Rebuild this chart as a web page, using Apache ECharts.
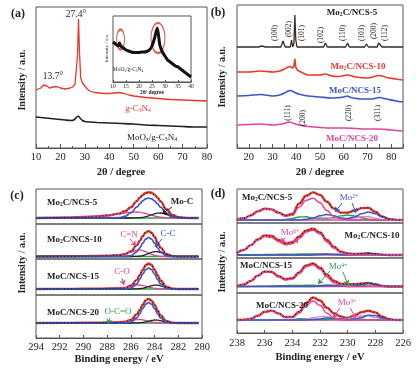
<!DOCTYPE html>
<html><head><meta charset="utf-8">
<script src="https://cdn.jsdelivr.net/npm/echarts/dist/echarts.min.js"></script>
<style>html,body{margin:0;padding:0;background:#fff}#c{width:416px;height:368px}</style>
</head><body><div id="c"></div>
<script>
// ---------- (a) XRD ----------
const aX = [10, 11, 12, 13, 13.7, 14.5, 15.5, 17, 18, 19, 20, 22, 24, 25, 26, 26.5, 27, 27.4, 27.8, 28.3, 29, 30, 31, 32, 34, 36, 38, 40, 42, 44, 46, 48, 50, 55, 60, 65, 70, 75, 80];
const aRed = [58, 59, 60, 63, 65, 62, 60, 61, 61.5, 61, 60, 59, 60, 61, 64, 66, 93, 129, 96, 70, 65, 62, 59, 57, 55.5, 55, 54.5, 54.5, 55, 55.5, 54.5, 53, 52, 50.5, 49.5, 48.5, 48, 47.5, 47];
const aBlackX = [10, 12, 14, 16, 18, 20, 22, 24, 25.5, 26.5, 27.3, 28, 29, 30, 32, 35, 40, 45, 50, 55, 60, 65, 70, 75, 80];
const aBlack = [31, 30.5, 30, 29.5, 29, 28.5, 28, 27.5, 28, 30.5, 32, 30, 27.5, 26.5, 26, 25.5, 25, 24.5, 24, 23, 22.5, 22, 21.5, 21, 21];
const insetX = [10, 11, 12, 12.5, 13, 14, 15, 16, 17, 18, 19, 20, 21, 22, 23, 24, 25, 26, 27, 27.5, 28, 29, 30, 31, 32, 33, 34, 35, 36, 37, 38, 39, 40];
const insetY = [40, 38, 36, 39, 36, 34, 32, 31, 30, 29.5, 29.5, 29.5, 30, 30, 30.5, 32, 36, 44, 54, 47, 37, 30, 26, 22, 20, 18, 16, 15, 13, 11, 9, 7, 5];
const insetMarkX = [12.9, 27.3];
const insetMarkY = [42.5, 44];
// ---------- (b) XRD ----------
const bX = [15, 24, 25.5, 27, 33.5, 34.4, 35.3, 37.5, 38.0, 38.5, 39.0, 39.4, 39.8, 40.3, 51.5, 52.3, 53.1, 60.8, 61.6, 62.4, 68.8, 69.6, 70.4, 74.1, 74.7, 75.5, 76.2, 85];
const bBlack = [101, 101, 102, 101, 101, 107, 101, 101, 108, 101, 104, 133, 108, 101, 101, 105, 101, 101, 105, 101, 101, 104, 101, 101, 105, 104, 101, 101];
const bRedX = [15, 20, 25, 30, 33, 35, 36.5, 37.5, 38.5, 39.0, 39.4, 39.8, 40.5, 42, 45, 50, 52, 55, 58, 61.5, 65, 70, 75, 78, 82, 85];
const bRed = [76, 76, 77, 76, 77, 79, 81, 81.5, 80, 82, 89, 81, 78, 76, 73, 73, 74, 72, 71.5, 73, 71, 70, 72.5, 70.5, 69, 68];
const bBlueX = [15, 20, 25, 30, 33, 35, 36.5, 37.5, 39, 41, 45, 50, 55, 60, 61.5, 63, 68, 72, 75, 78, 82, 85];
const bBlue = [52, 52.5, 53.5, 52, 53, 55, 57, 57.5, 56, 54, 52, 51, 50, 51, 52, 50.5, 49, 49, 50.5, 49, 47, 46];
const bPinkX = [15, 20, 25, 30, 34, 36, 37.5, 39, 42, 45, 50, 55, 60, 65, 70, 75, 80, 85];
const bPink = [23, 23.5, 24, 23, 24, 25.5, 26, 24.5, 22.5, 21.5, 20.5, 20, 20, 19.5, 19, 19, 18, 17];
const hklTop = ['(100)', '(002)', '(101)', '(102)', '(110)', '(103)', '(200)', '(112)'];
const hklBottom = ['(111)', '(200)', '(220)', '(311)'];
const sampleNames = ['Mo_2C/NCS-5', 'Mo_2C/NCS-10', 'MoC/NCS-15', 'MoC/NCS-20'];
// ---------- (c) C 1s XPS ----------
const cE = [294, 291, 289, 288, 287, 286.5, 286, 285.5, 285.25, 285, 284.75, 284.5, 284.25, 284, 283.75, 283.5, 283, 282.5, 282, 281, 280.3];
const cBaseE = [294, 280.3];
const c1Env = [6, 6.5, 7.5, 8.5, 10.4, 12.7, 16.8, 22.9, 26.2, 29, 31, 31.8, 31.2, 29.3, 26.3, 22.6, 14.7, 9, 6.8, 6, 6];
const c1CC = [6, 6, 6, 6, 6.4, 7.7, 11, 16.8, 20.1, 23.1, 25.2, 26, 25.2, 23.1, 20.1, 16.8, 11, 7.7, 6.4, 6, 6];
const c1CN = [6, 6.5, 7.5, 8.5, 10, 11, 11.8, 12, 11.8, 11.2, 10.5, 9.6, 8.8, 8, 7.3, 6.8, 6.2, 6, 6, 6, 6];
const c1MoC = [6, 6, 6, 6, 6, 6, 6, 6.1, 6.3, 6.7, 7.3, 8.2, 9.2, 10.2, 10.9, 11, 9.5, 7.3, 6.4, 6, 6];
const c1Base = [6, 6];
const c2Env = [2.5, 2.7, 3, 3.3, 3.8, 4.9, 7.6, 13.6, 18.1, 22.7, 26.5, 27.9, 26.2, 22, 16.6, 11.4, 4.9, 2.9, 2.5, 2.5, 2.5];
const c2CC = [2.5, 2.5, 2.5, 2.5, 2.5, 2.6, 3.3, 7.2, 11.2, 15.9, 19.9, 21.5, 19.9, 15.9, 11.2, 7.2, 3.3, 2.6, 2.5, 2.5, 2.5];
const c2CN = [2.5, 2.7, 3, 3.3, 3.8, 4.8, 6.8, 8.8, 9, 8.4, 7.3, 5.9, 4.6, 3.7, 3.1, 2.7, 2.5, 2.5, 2.5, 2.5, 2.5];
const c2MoC = [2.5, 2.5, 2.5, 2.5, 2.5, 2.5, 2.5, 2.6, 2.9, 3.4, 4.3, 5.5, 6.7, 7.4, 7.3, 6.5, 4.1, 2.8, 2.5, 2.5, 2.5];
const c2Base = [2.5, 2.5];
const c3Env = [6, 6.1, 6.3, 6.5, 6.8, 7, 9.3, 15.1, 19.9, 25.1, 29.7, 31.5, 30, 25.4, 19.8, 14.5, 8.2, 6.4, 6, 6, 6];
const c3CC = [6, 6, 6, 6, 6, 6.1, 6.9, 11.2, 15.6, 20.8, 25.3, 27, 25.3, 20.8, 15.6, 11.2, 6.9, 6.1, 6, 6, 6];
const c3CN = [6, 6.1, 6.3, 6.5, 6.8, 6.9, 8.4, 9.8, 10, 9.6, 8.9, 8.1, 7.3, 6.7, 6.3, 6.1, 6, 6, 6, 6, 6];
const c3MoC = [6, 6, 6, 6, 6, 6, 6, 6.1, 6.3, 6.7, 7.5, 8.4, 9.4, 9.9, 9.9, 9.2, 7.3, 6.3, 6, 6, 6];
const c3Base = [6, 6];
const c4Env = [15, 15.1, 15.3, 15.5, 15.7, 16.2, 18, 23.6, 28.1, 33.3, 37.5, 39.1, 37.4, 33.1, 27.6, 22.6, 16.9, 15.3, 15, 15, 15];
const c4CC = [15, 15, 15, 15, 15, 15.1, 15.9, 20.1, 24.4, 29.5, 33.8, 35.5, 33.8, 29.5, 24.4, 20.1, 15.9, 15.1, 15, 15, 15];
const c4CN = [15, 15.1, 15.3, 15.5, 15.7, 16.1, 17.1, 18.4, 18.5, 18.2, 17.6, 16.8, 16.1, 15.6, 15.3, 15.1, 15, 15, 15, 15, 15];
const c4MoC = [15, 15, 15, 15, 15, 15, 15, 15.1, 15.2, 15.6, 16.1, 16.8, 17.5, 18, 17.9, 17.4, 16, 15.2, 15, 15, 15];
const c4Base = [15, 15];
// ---------- (d) Mo 3d XPS ----------
const dE = [238, 237.5, 237, 236.5, 236, 235.5, 235, 234.5, 234, 233.5, 233, 232.5, 232, 231.5, 231, 230.5, 230, 229.5, 229, 228.5, 228, 227.5, 227, 226.5, 226];
const dBaseE = [238, 226];
const d1Env = [3.5, 4.7, 7.6, 11.6, 14.3, 13.6, 10.4, 7.5, 9, 19.5, 27.3, 30.6, 28.1, 21.3, 14.5, 10.4, 10.4, 12.2, 14.9, 15.1, 11.2, 6.5, 3.9, 3.1, 3];
const d1Mo6 = [3.5, 4.7, 7.6, 11.6, 14.3, 13.6, 10, 6.8, 7.8, 15.9, 22.7, 24.8, 20.2, 12.5, 6.7, 4, 3.2, 3, 3, 3, 3, 3, 3, 3, 3];
const d1Mo4 = [3, 3, 3, 3, 3, 3, 3.2, 3.6, 4.5, 6, 6.3, 5.1, 4.1, 4.2, 5.4, 7.1, 8, 7.1, 5.3, 3.9, 3.2, 3, 3, 3, 3];
const d1Mo2 = [3, 3, 3, 3, 3, 3, 3, 3, 3, 3, 3.6, 5, 7.3, 8.5, 7.3, 5, 4.4, 6, 9.2, 11, 9.2, 5.9, 3.8, 3.1, 3];
const d1Mo3 = [3, 3, 3, 3, 3, 3, 3, 3, 3, 3.2, 3.7, 4.7, 5.5, 5.1, 4.1, 3.3, 3.8, 5.1, 6.4, 6.2, 4.8, 3.6, 3.1, 3, 3];
const d1Base = [3, 3];
const d2Env = [5, 8.1, 12.9, 18.5, 22.5, 22, 18, 14.5, 15.9, 21.5, 27.5, 29.2, 25.5, 18, 11.2, 6.4, 4.5, 4, 4.3, 4.7, 4.1, 3.3, 3, 3, 3];
const d2Mo6 = [5, 8, 12.8, 18, 21.5, 20.5, 16.3, 13.2, 14.2, 19.5, 26, 27.8, 24, 16.1, 9.7, 5.6, 3.8, 3.2, 3, 3, 3, 3, 3, 3, 3];
const d2Mo4 = [3, 3.1, 3.2, 3.3, 3.5, 3.6, 3.75, 3.8, 3.9, 3.95, 4, 4, 4, 3.95, 3.9, 3.8, 3.65, 3.5, 3.3, 3.2, 3.1, 3, 3, 3, 3];
const d2Mo2 = [3, 3, 3, 3, 3, 3, 3, 3, 3, 3, 3, 3.2, 3.6, 4, 3.6, 3.2, 3, 3.3, 4, 4.5, 4, 3.3, 3, 3, 3];
const d2Base = [3, 3];
const d3Env = [7, 8.5, 12, 17.4, 21.4, 21.1, 16.8, 13.8, 14.8, 20.6, 27.5, 29.5, 25.2, 18.3, 12.2, 9.3, 8.7, 8.8, 9.5, 10, 8.7, 7, 6.5, 6.5, 6.5];
const d3Mo6 = [7, 8.5, 12, 17.2, 21.1, 20.6, 16.1, 13, 13.8, 19.5, 26.3, 28.3, 23.7, 16, 10.2, 7.5, 6.7, 6.5, 6.5, 6.5, 6.5, 6.5, 6.5, 6.5, 6.5];
const d3Mo4 = [6.5, 6.5, 6.6, 6.7, 6.8, 7, 7.2, 7.4, 7.5, 7.6, 7.7, 7.7, 7.5, 7.5, 7.5, 8, 8.5, 8.3, 7.5, 7, 6.7, 6.6, 6.5, 6.5, 6.5];
const d3Mo2 = [6.5, 6.5, 6.5, 6.5, 6.5, 6.5, 6.5, 6.5, 6.5, 6.5, 6.5, 6.6, 7, 7.8, 7.5, 6.8, 6.6, 7, 8.5, 9.5, 8.5, 7, 6.5, 6.5, 6.5];
const d3Base = [6.5, 6.5];
const d4Env = [13, 13.2, 14.3, 17.2, 21.1, 22.4, 19.6, 15.8, 16.1, 21.3, 30.1, 35.5, 32.5, 25.2, 19.7, 16.5, 15, 17.5, 20.8, 22.3, 20.6, 16.3, 13.8, 13, 13];
const d4Mo6 = [13, 13.2, 14.3, 17.2, 21.1, 22.4, 19.6, 15.8, 15.6, 19.9, 27.7, 32, 27.7, 19.8, 14.9, 13.3, 13, 13, 13, 13, 13, 13, 13, 13, 13];
const d4Mo3 = [13, 13, 13, 13, 13, 13, 13, 13, 13, 13.1, 14, 15.3, 16.4, 16.2, 15, 13.8, 14.2, 15.9, 17.3, 17.2, 15.6, 14, 13.2, 13, 13];
const d4Mo2 = [13, 13, 13, 13, 13, 13, 13, 13, 13, 13, 13, 13.3, 14, 14.9, 14.8, 13.8, 13.3, 13.7, 15.5, 17.7, 17.4, 15.1, 13.5, 13, 13];
const d4Mo4 = [13, 13, 13, 13, 13, 13, 13.1, 13.3, 13.5, 14.3, 14.4, 13.9, 13.4, 13.3, 14, 14.4, 14.5, 14.2, 13.8, 13.4, 13.1, 13, 13, 13, 13];
const d4Base = [13, 13];

// ---------- styles / layout ----------
const FONT = "'Liberation Serif','Times New Roman',serif";
const RED = '#e8392b', BLUE = '#3a56c8', PINK = '#e2449a', GREEN = '#2f9e4a', LILAC = '#d98ad8', INK = '#222';

const grids = [
  {left: 36, top: 7, width: 171, height: 141},
  {left: 113, top: 16, width: 78, height: 66},
  {left: 237, top: 5, width: 166, height: 143},
  {left: 36, top: 189, width: 166, height: 35},
  {left: 36, top: 224, width: 166, height: 35},
  {left: 36, top: 259, width: 166, height: 36},
  {left: 36, top: 295, width: 166, height: 43},
  {left: 237, top: 189, width: 166, height: 34},
  {left: 237, top: 223, width: 166, height: 35},
  {left: 237, top: 258, width: 166, height: 35},
  {left: 237, top: 293, width: 166, height: 40}
].map(g => Object.assign({show: true, borderColor: '#555', borderWidth: 1, backgroundColor: 'transparent'}, g));

function xa(g, min, max, interval, o) {
  o = o || {};
  return {
    gridIndex: g, type: 'value', min, max, interval, inverse: !!o.inverse, show: o.show !== false,
    axisLine: {onZero: false, lineStyle: {color: '#555', width: 1}},
    axisTick: {show: true, inside: true, length: o.tick || 4, lineStyle: {color: '#555'}},
    minorTick: {show: !!o.minor, splitNumber: 2, length: 2, lineStyle: {color: '#555'}},
    axisLabel: {show: o.labels !== false, margin: o.margin || 4, fontSize: o.fs || 10.5, fontFamily: FONT, color: INK,
      formatter: o.fmt || (v => v)},
    splitLine: {show: false}, minorSplitLine: {show: false}
  };
}
const xAxes = [
  xa(0, 10, 80, 10, {minor: true, margin: 4}),
  xa(1, 10, 40, 5, {fs: 5.5, margin: 2, tick: 2}),
  xa(2, 15, 85, 5, {margin: 4, fmt: v => (v % 10 === 0 ? v : '')}),
  xa(3, 280, 294, 2, {inverse: true, show: false}),
  xa(4, 280, 294, 2, {inverse: true, show: false}),
  xa(5, 280, 294, 2, {inverse: true, show: false}),
  xa(6, 280, 294, 2, {inverse: true, margin: 4, tick: 3}),
  xa(7, 226, 238, 2, {inverse: true, show: false}),
  xa(8, 226, 238, 2, {inverse: true, show: false}),
  xa(9, 226, 238, 2, {inverse: true, show: false}),
  xa(10, 226, 238, 2, {inverse: true, margin: 5, tick: 3})
];
const yAxes = grids.map((g, i) => ({gridIndex: i, type: 'value', min: 0, max: g.height, show: false}));

function L(g, xs, ys, color, width, extra) {
  return Object.assign({
    type: 'line', xAxisIndex: g, yAxisIndex: g, data: xs.map((x, i) => [x, ys[i]]),
    showSymbol: false, symbol: 'none', silent: true, animation: false,
    lineStyle: {color, width}
  }, extra || {});
}
const SM = {smooth: 0.45, smoothMonotone: 'x'};
function dots(g, xs, ys) {
  return L(g, xs, ys, INK, 1.2, Object.assign({lineStyle: {color: '#1a1a1a', width: 1.2, type: [1, 2.5]}}, SM));
}
function arrows(list) {
  return list.map(a => ({
    type: 'line', xAxisIndex: a.g, yAxisIndex: a.g, data: [], silent: true, animation: false,
    markLine: {silent: true, animation: false, symbol: ['none', 'arrow'], symbolSize: 5,
      label: {show: false}, lineStyle: {color: a.c, width: 1, type: 'solid'},
      data: [[{coord: a.from}, {coord: a.to}]]}
  }));
}
function ring(i, size) {
  return {type: 'scatter', xAxisIndex: 1, yAxisIndex: 1, silent: true, animation: false,
    data: [[insetMarkX[i], insetMarkY[i]]], symbol: 'circle', symbolSize: size,
    itemStyle: {color: 'rgba(0,0,0,0)', borderColor: '#e53020', borderWidth: 1.5}};
}

const series = [
  // (a)
  L(0, aX, aRed, RED, 1.3),
  L(0, aBlackX, aBlack, INK, 1.6, {smooth: 0.2}),
  L(1, insetX, insetY, '#111', 3, {smooth: 0.2}),
  ring(0, [8, 20]),
  ring(1, [14, 30]),
  // (b)
  L(2, bX, bBlack, '#3a2a25', 1.3),
  L(2, bRedX, bRed, RED, 1.6, {smooth: 0.3}),
  L(2, bBlueX, bBlue, BLUE, 1.6, {smooth: 0.3}),
  L(2, bPinkX, bPink, PINK, 1.6, {smooth: 0.3}),
];
const cSets = [
  [c1Env, c1CC, c1CN, c1MoC, c1Base],
  [c2Env, c2CC, c2CN, c2MoC, c2Base],
  [c3Env, c3CC, c3CN, c3MoC, c3Base],
  [c4Env, c4CC, c4CN, c4MoC, c4Base]
];
cSets.forEach((s, i) => {
  const g = 3 + i;
  series.push(L(g, cE, s[0], RED, 2.4, SM));
  series.push(L(g, cBaseE, s[4], GREEN, 1.5));
  series.push(L(g, cE, s[2], PINK, 1.3, SM));
  series.push(L(g, cE, s[3], INK, 1.3, SM));
  series.push(L(g, cE, s[1], BLUE, 1.7, SM));
  series.push(dots(g, cE, s[0]));
});
const dSets = [
  {env: d1Env, mo6: d1Mo6, mo4: d1Mo4, mo2: d1Mo2, mo3: d1Mo3, base: d1Base},
  {env: d2Env, mo6: d2Mo6, mo4: d2Mo4, mo2: d2Mo2, base: d2Base},
  {env: d3Env, mo6: d3Mo6, mo4: d3Mo4, mo2: d3Mo2, base: d3Base},
  {env: d4Env, mo6: d4Mo6, mo4: d4Mo4, mo2: d4Mo2, mo3: d4Mo3, base: d4Base}
];
dSets.forEach((s, i) => {
  const g = 7 + i;
  series.push(L(g, dE, s.env, RED, 2.4, SM));
  series.push(L(g, dBaseE, s.base, PINK, 1.6));
  series.push(L(g, dE, s.mo4, GREEN, 1.4, SM));
  if (s.mo3) series.push(L(g, dE, s.mo3, LILAC, 1.4, SM));
  series.push(L(g, dE, s.mo2, BLUE, 1.5, SM));
  series.push(L(g, dE, s.mo6, PINK, 1.5, SM));
  series.push(dots(g, dE, s.env));
});
arrows([
  {g: 3, from: [282.53, 17], to: [283.38, 10], c: INK},
  {g: 4, from: [286.07, 20], to: [285.57, 13], c: PINK},
  {g: 4, from: [283.38, 20], to: [283.97, 12], c: BLUE},
  {g: 5, from: [286.75, 17], to: [286.58, 10], c: PINK},
  {g: 6, from: [287.76, 20], to: [287.93, 14], c: GREEN},
  {g: 7, from: [230.41, 20], to: [230.91, 11], c: BLUE},
  {g: 7, from: [229.68, 20], to: [229.40, 10], c: BLUE},
  {g: 8, from: [234.53, 20], to: [234.82, 15], c: PINK},
  {g: 8, from: [233.81, 20], to: [233.59, 15], c: PINK},
  {g: 9, from: [231.28, 22], to: [232.14, 9], c: GREEN},
  {g: 9, from: [230.34, 21], to: [229.97, 8], c: GREEN},
  {g: 10, from: [230.55, 25], to: [231.06, 15], c: PINK},
  {g: 10, from: [229.83, 25], to: [229.40, 15], c: PINK}
]).forEach(s => series.push(s));

// ---------- texts ----------
function fmt(s) {
  return '{n|' + s.replace(/_(\w)/g, '}{s|$1}{n|').replace(/\^\{([^}]*)\}/g, '}{p|$1}{n|') + '}';
}
function T(x, y, s, o) {
  o = o || {};
  const size = o.size || 9, color = o.color || INK, w = o.weight || 'bold';
  const base = {fontFamily: FONT, fontWeight: w, fill: color};
  return {type: 'text', x, y, rotation: o.rot || 0, silent: true, z: 100,
    style: {text: fmt(s), fill: color, align: o.align || 'center', verticalAlign: 'middle',
      rich: {n: Object.assign({fontSize: size}, base),
             s: Object.assign({fontSize: size * 0.62, verticalAlign: 'bottom'}, base),
             p: Object.assign({fontSize: size * 0.62, verticalAlign: 'top'}, base)}}};
}
const R90 = Math.PI / 2;
const hklTopPos = [[275, 33], [289, 29], [302, 33], [321, 35], [343, 33], [362, 33], [374, 31], [385, 33]];
const hklBotPos = [[288, 113], [303, 118], [349, 113], [378, 113]];
const graphic = [
  T(18, 14, '(a)', {size: 12}), T(218, 13, '(b)', {size: 12}), T(17, 196, '(c)', {size: 12}), T(218, 194, '(d)', {size: 12}),
  T(22, 80, 'Intensity / a.u.', {size: 10, rot: R90}),
  T(222, 77, 'Intensity / a.u.', {size: 10, rot: R90}),
  T(22, 263, 'Intensity / a.u.', {size: 10, rot: R90}),
  T(222, 262, 'Intensity / a.u.', {size: 10, rot: R90}),
  T(121, 172, '2θ / degree', {size: 10.5}),
  T(320, 172, '2θ / degree', {size: 10.5}),
  T(119, 359, 'Binding energy / eV', {size: 10.5}),
  T(320, 357, 'Binding energy / eV', {size: 10.5}),
  T(76, 14, '27.4°', {size: 9.5, weight: 'normal'}),
  T(53, 76, '13.7°', {size: 9.5, weight: 'normal'}),
  T(138, 109, 'g-C_3N_4', {size: 9, color: RED, weight: 'normal'}),
  T(152, 138, 'MoO_x/g-C_3N_4', {size: 9, weight: 'normal'}),
  T(128, 70, 'MoO_x/g-C_3N_4', {size: 5.5, weight: 'normal'}),
  T(107, 48, 'Intensity / a.u.', {size: 5, rot: R90, weight: 'normal'}),
  T(152, 93, '2θ/ degree', {size: 5.5}),
  T(352, 13, sampleNames[0], {size: 9}),
  T(358, 67, sampleNames[1], {size: 9, color: RED}),
  T(355, 91, sampleNames[2], {size: 9, color: BLUE}),
  T(352, 139, sampleNames[3], {size: 9, color: PINK}),
  T(47, 203, sampleNames[0], {size: 9, align: 'left'}),
  T(47, 240, sampleNames[1], {size: 9, align: 'left'}),
  T(47, 277, sampleNames[2], {size: 9, align: 'left'}),
  T(47, 313, sampleNames[3], {size: 9, align: 'left'}),
  T(182, 202, 'Mo-C', {size: 9}),
  T(129, 235, 'C=N', {size: 9, color: PINK, weight: 'normal'}),
  T(168, 234, 'C-C', {size: 9, color: BLUE, weight: 'normal'}),
  T(122, 272, 'C-O', {size: 9, color: PINK, weight: 'normal'}),
  T(118, 312, 'O-C=O', {size: 9, color: GREEN, weight: 'normal'}),
  T(242, 198, sampleNames[0], {size: 9, align: 'left'}),
  T(372, 236, sampleNames[1], {size: 9}),
  T(240, 266, sampleNames[2], {size: 9, align: 'left'}),
  T(256, 306, sampleNames[3], {size: 9, align: 'left'}),
  T(349, 198, 'Mo^{2+}', {size: 9, color: BLUE, weight: 'normal'}),
  T(290, 233, 'Mo^{6+}', {size: 9, color: PINK, weight: 'normal'}),
  T(338, 267, 'Mo^{4+}', {size: 9, color: GREEN, weight: 'normal'}),
  T(347, 303, 'Mo^{3+}', {size: 9, color: PINK, weight: 'normal'})
];
hklTop.forEach((h, i) => graphic.push(T(hklTopPos[i][0], hklTopPos[i][1], h, {size: 7.5, rot: R90, weight: 'normal'})));
hklBottom.forEach((h, i) => graphic.push(T(hklBotPos[i][0], hklBotPos[i][1], h, {size: 7.5, rot: R90, weight: 'normal'})));

const chart = echarts.init(document.getElementById('c'), null, {renderer: 'canvas'});
chart.setOption({
  animation: false, backgroundColor: '#fff',
  grid: grids, xAxis: xAxes, yAxis: yAxes, series, graphic
});
</script></body></html>
